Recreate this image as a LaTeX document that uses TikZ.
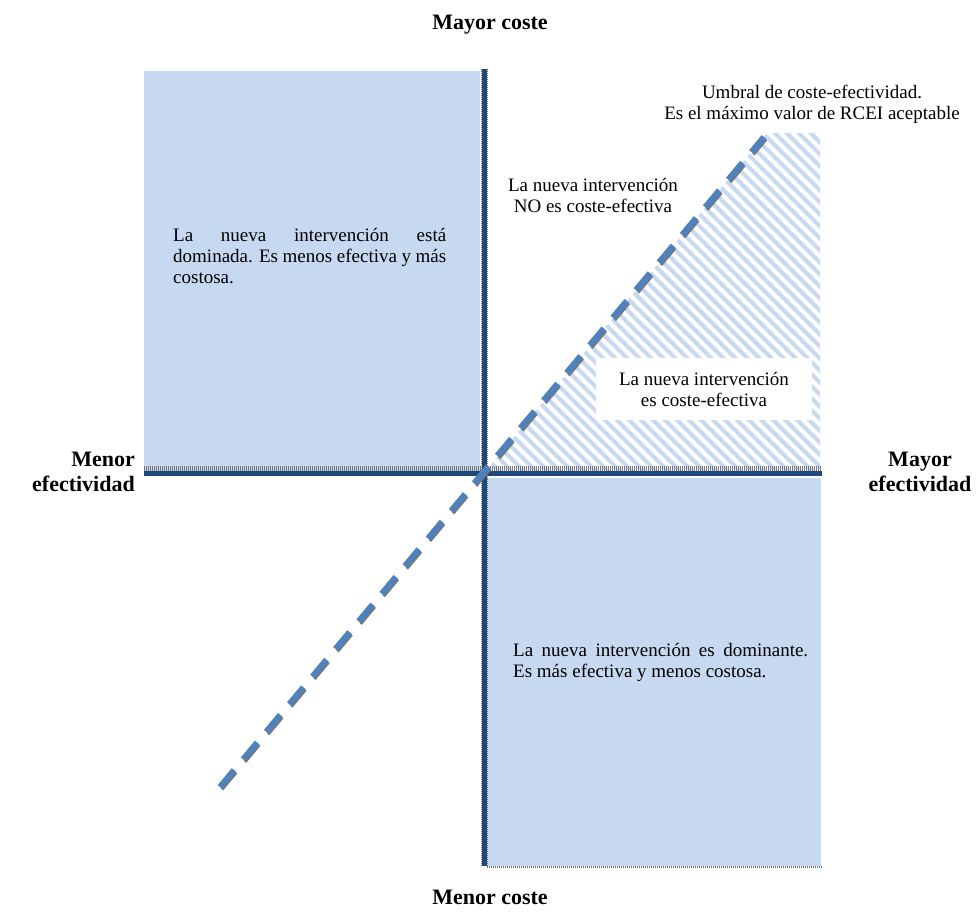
\documentclass[tikz,border=0pt]{standalone}
\usepackage{fontspec}
\setmainfont{Liberation Serif}
\usetikzlibrary{patterns.meta,positioning}

\begin{document}
\begin{tikzpicture}[x=1pt,y=-1pt]
%
\useasboundingbox (0,0) rectangle (980,921);
%
\definecolor{cfq}{RGB}{198,217,240}
\definecolor{cax}{RGB}{31,73,125}
\definecolor{csh}{RGB}{120,120,120}
\definecolor{cum}{RGB}{79,129,189}
%
\tikzset{
  lbl/.style={font=\fontsize{19}{21}\selectfont,inner sep=0pt},
  axlbl/.style={font=\fontsize{22}{25}\selectfont\bfseries,inner sep=0pt,align=center},
  eje/.style={line width=5pt,color=cax},
  sombra/.style={line width=#1,color=csh,dash pattern=on 1pt off 1pt},
  sombra/.default=3pt,
  umbral/.style={line width=6pt,color=cum,dash pattern=on 22pt off 14pt}
}
%
\coordinate (o) at (484,473);
\coordinate (top) at (484,69);
\coordinate (bot) at (484,866);
\coordinate (left) at (144,473);
\coordinate (right) at (822,473);
\coordinate (u0) at (220,787);
\coordinate (u1) at (764,137);
%
\fill[cfq] (144,71) rectangle (480,471);
\fill[cfq] (487,478) rectangle (821,866);
\fill[pattern={Lines[angle=-45,distance=8.5pt,line width=4pt]},pattern color=cfq]
  (o) -- (767,133) -- (820,133) -- (820,471) -- cycle;
%
\node[lbl,fill=white,minimum width=216pt,minimum height=62pt,align=center] (sice) at (704,389)
  {La nueva intervención\\es coste-efectiva};
%
\draw[sombra=8pt] ([yshift=3pt]left) -- ([yshift=3pt]right);
\draw[sombra=7pt] (top) -- (bot);
\draw[sombra=2pt] (487,867) -- (822,867);
\draw[eje] (left) -- (right);
\draw[eje] (top) -- (bot);
%
\draw[umbral,color=csh,line width=3pt] ([shift={(2pt,-2.5pt)}]u0) -- ([shift={(2pt,-2.5pt)}]u1);
\draw[umbral] (u0) -- (u1);
%
\node[axlbl] (mayorc) at (490,25) {Mayor coste};
\node[axlbl] (menorc) at (490,897) {Menor coste};
\node[axlbl,align=right,anchor=east] (menore) at (135,472) {Menor\\efectividad};
\node[axlbl] (mayore) at (920,472) {Mayor\\efectividad};
\node[lbl,align=center] (umb) at (812,104)
  {Umbral de coste-efectividad.\\Es el máximo valor de RCEI aceptable};
\node[lbl,align=center] (noce) at (593,195) {La nueva intervención\\NO es coste-efectiva};
\node[lbl,text width=273pt,align=justify,anchor=north west] (domd) at (173,228)
  {La nueva intervención está\linebreak dominada. Es menos efectiva y más\linebreak costosa.};
\node[lbl,text width=295pt,align=justify,anchor=north west] (domt) at (513,643)
  {La nueva intervención es dominante.\linebreak Es más efectiva y menos costosa.};
%
\end{tikzpicture}
\end{document}
